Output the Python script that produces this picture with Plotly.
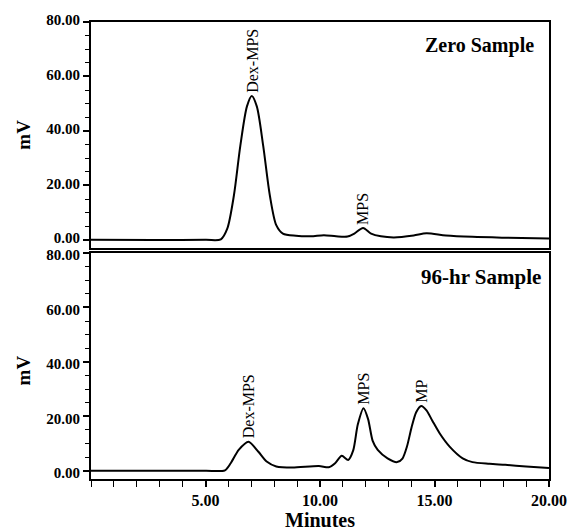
import plotly.graph_objects as go
from plotly.subplots import make_subplots

# ---- data ----
zero_t = [0.0, 5.0, 5.67, 5.95, 6.24, 6.52, 6.81, 7.02, 7.24, 7.52, 7.81, 8.09, 8.38, 8.95,
          9.6, 10.17, 10.7, 11.2, 11.5, 11.88, 12.23, 12.66, 13.23, 14.09, 14.65, 15.5,
          16.66, 18.0, 20.0]
zero_mv = [0.0, 0.0, 0.2, 4.1, 16.3, 34.5, 49.0, 52.8, 49.0, 34.5, 16.3, 5.4, 2.3, 1.5,
           1.3, 1.7, 1.3, 1.2, 2.3, 4.4, 2.3, 1.3, 0.9, 1.6, 2.4, 1.6,
           1.1, 0.8, 0.5]

h96_t = [0.0, 5.0, 5.85, 6.10, 6.45, 6.88, 7.31, 7.67, 8.09, 8.8, 9.95, 10.38, 10.66, 10.95,
         11.23, 11.45, 11.65, 11.9, 12.1, 12.3, 12.52, 12.95, 13.37, 13.6, 13.8, 14.0, 14.2,
         14.42, 14.65, 14.9, 15.23, 15.66, 16.23, 16.66, 17.4, 18.09, 19.0, 20.0]
h96_mv = [0.0, 0.0, 0.2, 2.8, 7.7, 10.7, 7.0, 3.4, 1.6, 1.2, 1.8, 1.3, 2.8, 5.5,
          4.0, 7.5, 17.0, 23.0, 19.0, 11.0, 7.7, 4.6, 3.2, 4.5, 9.0, 16.0, 21.5,
          23.8, 22.2, 18.5, 13.7, 8.9, 4.6, 3.2, 2.6, 2.2, 1.6, 1.0]

zero_labels = [("Dex-MPS", 7.02, 52.8), ("MPS", 11.88, 4.4)]
h96_labels = [("Dex-MPS", 6.88, 10.7), ("MPS", 11.9, 23.0), ("MP", 14.42, 23.8)]

y_ticks = [0, 20, 40, 60, 80]
x_ticks = [5, 10, 15, 20]

SERIF = "Liberation Serif"

fig = make_subplots(rows=2, cols=1, shared_xaxes=False, vertical_spacing=0.0)

fig.add_trace(go.Scatter(x=zero_t, y=zero_mv, mode="lines",
                         line=dict(color="black", width=2, shape="spline", smoothing=0.8),
                         showlegend=False, hoverinfo="skip"), row=1, col=1)
fig.add_trace(go.Scatter(x=h96_t, y=h96_mv, mode="lines",
                         line=dict(color="black", width=2, shape="spline", smoothing=0.7),
                         showlegend=False, hoverinfo="skip"), row=2, col=1)

tickfont = dict(family=SERIF, size=15, color="black", weight="bold")

yaxis_common = dict(range=[-3, 80], tickvals=y_ticks, tickformat=".2f",
                    ticks="outside", ticklen=6, tickwidth=1.5, tickcolor="black",
                    showline=True, linecolor="black", linewidth=2, mirror=True,
                    showgrid=False, zeroline=False, tickfont=tickfont,
                    minor=dict(tickmode="linear", tick0=0, dtick=5, ticks="outside",
                               ticklen=4, tickwidth=1.2, tickcolor="black", showgrid=False))

fig.update_layout(
    width=579, height=531,
    margin=dict(l=91, r=21, t=18, b=52),
    paper_bgcolor="white", plot_bgcolor="white",
    xaxis=dict(domain=[0, 1], range=[0, 20], showticklabels=False, ticks="",
               showline=True, linecolor="black", linewidth=2, mirror=True,
               showgrid=False, zeroline=False, anchor="y"),
    yaxis=dict(domain=[0.5054, 1.0], anchor="x", ticklabelshift=-2, **yaxis_common),
    xaxis2=dict(domain=[0, 1], range=[0, 20], tickvals=x_ticks, tickformat=".2f",
                ticks="outside", ticklen=6, tickwidth=1.5, tickcolor="black",
                showline=True, linecolor="black", linewidth=2, mirror=True,
                showgrid=False, zeroline=False,
                tickfont=dict(family=SERIF, size=16, color="black", weight="bold"),
                anchor="y2",
                minor=dict(tickmode="linear", tick0=0, dtick=1, ticks="outside",
                           ticklen=6, tickwidth=1.2, tickcolor="black", showgrid=False)),
    yaxis2=dict(domain=[0.0, 0.4946], anchor="x2", ticklabelshift=2, **yaxis_common),
)

annotations = []
for text, t, v in zero_labels:
    annotations.append(dict(x=t, y=v, xref="x", yref="y", text=text, textangle=-90,
                            showarrow=False, xanchor="center", yanchor="bottom", yshift=1,
                            font=dict(family=SERIF, size=16, color="black")))
for text, t, v in h96_labels:
    annotations.append(dict(x=t, y=v, xref="x2", yref="y2", text=text, textangle=-90,
                            showarrow=False, xanchor="center", yanchor="bottom", yshift=1,
                            font=dict(family=SERIF, size=16, color="black")))

bold = dict(family=SERIF, color="black", weight="bold")
annotations += [
    dict(x=0.972, y=0.948, xref="paper", yref="paper", text="Zero Sample", showarrow=False,
         xanchor="right", yanchor="middle", font=dict(size=20, **bold)),
    dict(x=0.987, y=0.4425, xref="paper", yref="paper", text="96-hr Sample", showarrow=False,
         xanchor="right", yanchor="middle", font=dict(size=21, **bold)),
    dict(x=-0.148, y=0.754, xref="paper", yref="paper", text="mV", textangle=-90,
         showarrow=False, xanchor="center", yanchor="middle", font=dict(size=19, **bold)),
    dict(x=-0.148, y=0.238, xref="paper", yref="paper", text="mV", textangle=-90,
         showarrow=False, xanchor="center", yanchor="middle", font=dict(size=19, **bold)),
    dict(x=0.5, y=-0.089, xref="paper", yref="paper", text="Minutes", showarrow=False,
         xanchor="center", yanchor="middle", font=dict(size=20, **bold)),
]
fig.update_layout(annotations=annotations)

fig.write_html("out.html")
